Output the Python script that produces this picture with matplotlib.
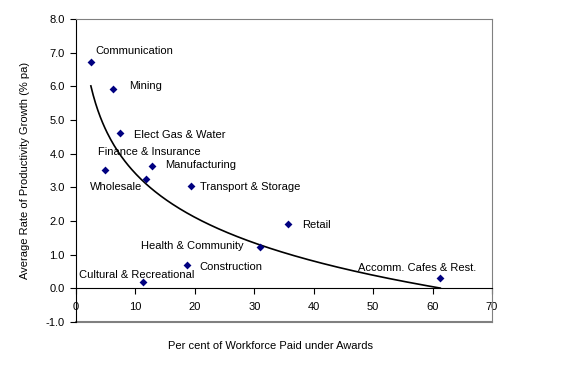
import numpy as np
import matplotlib
matplotlib.use("Agg")
import matplotlib.pyplot as plt

plt.rcParams['font.family'] = ['Liberation Sans', 'DejaVu Sans']
plt.rcParams['font.size'] = 8

industries = ["Communication", "Mining", "Elect Gas & Water", "Finance & Insurance",
              "Manufacturing", "Wholesale", "Transport & Storage", "Retail",
              "Health & Community", "Construction", "Cultural & Recreational",
              "Accomm. Cafes & Rest."]
award_pct = [2.5, 6.2, 7.4, 4.9, 12.8, 11.8, 19.3, 35.7, 31.0, 18.7, 11.3, 61.3]
prod_growth = [6.73, 5.91, 4.60, 3.51, 3.62, 3.26, 3.03, 1.92, 1.23, 0.69, 0.18, 0.32]

x_ticks = [0, 10, 20, 30, 40, 50, 60, 70]
y_ticks = [-1.0, 0.0, 1.0, 2.0, 3.0, 4.0, 5.0, 6.0, 7.0, 8.0]

# label offsets in pixels (text placement) and alignment
label_offsets = [(5, 11, 'left'), (16, 3, 'left'), (14, -2, 'left'), (-7, 18, 'left'),
                 (13, 1, 'left'), (-56, -8, 'left'), (9, -1, 'left'), (14, -1, 'left'),
                 (-17, 1, 'right'), (12, -2, 'left'), (-64, 7, 'left'), (-23, 10, 'center')]

fig = plt.figure(figsize=(5.66, 3.78), dpi=100)
ax = fig.add_axes([76/566, 1-322/378, (492-76)/566, (322-19)/378])

x = np.array(award_pct)
y = np.array(prod_growth)

# logarithmic trendline fitted to the data
a, b = np.polyfit(np.log(x), y, 1)
xt = np.linspace(x.min(), x.max(), 300)
ax.plot(xt, a*np.log(xt) + b, color='black', lw=1.2, zorder=2)

ax.scatter(x, y, marker='D', s=16, color='#000080', zorder=3, linewidths=0)

for name, xi, yi, (dx, dy, ha) in zip(industries, x, y, label_offsets):
    ax.annotate(name, (xi, yi), xytext=(dx, dy), textcoords='offset pixels',
                ha=ha, va='center', fontsize=8, color='black')

ax.set_xlim(0, 70)
ax.set_ylim(-1, 8)
ax.set_xticks(x_ticks)
ax.set_xticklabels([str(t) for t in x_ticks])
ax.set_yticks(y_ticks)
ax.set_yticklabels([f"{t:.1f}" for t in y_ticks])

ax.spines['bottom'].set_position(('data', 0))
ax.spines['bottom'].set_color('black')
ax.spines['left'].set_color('black')
ax.spines['top'].set_color('#808080')
ax.spines['right'].set_color('#808080')
ax.axhline(-1, color='#808080', lw=1.5, clip_on=False, zorder=1)

ax.tick_params(axis='x', direction='out', length=4, pad=6, colors='black')
ax.tick_params(axis='y', direction='out', length=4, pad=4, colors='black')

ax.set_ylabel("Average Rate of Productivity Growth (% pa)", fontsize=8, labelpad=11)
fig.text(271/566, 1-346/378, "Per cent of Workforce Paid under Awards",
         ha='center', va='center', fontsize=8)

fig.savefig("out.png", dpi=100)
